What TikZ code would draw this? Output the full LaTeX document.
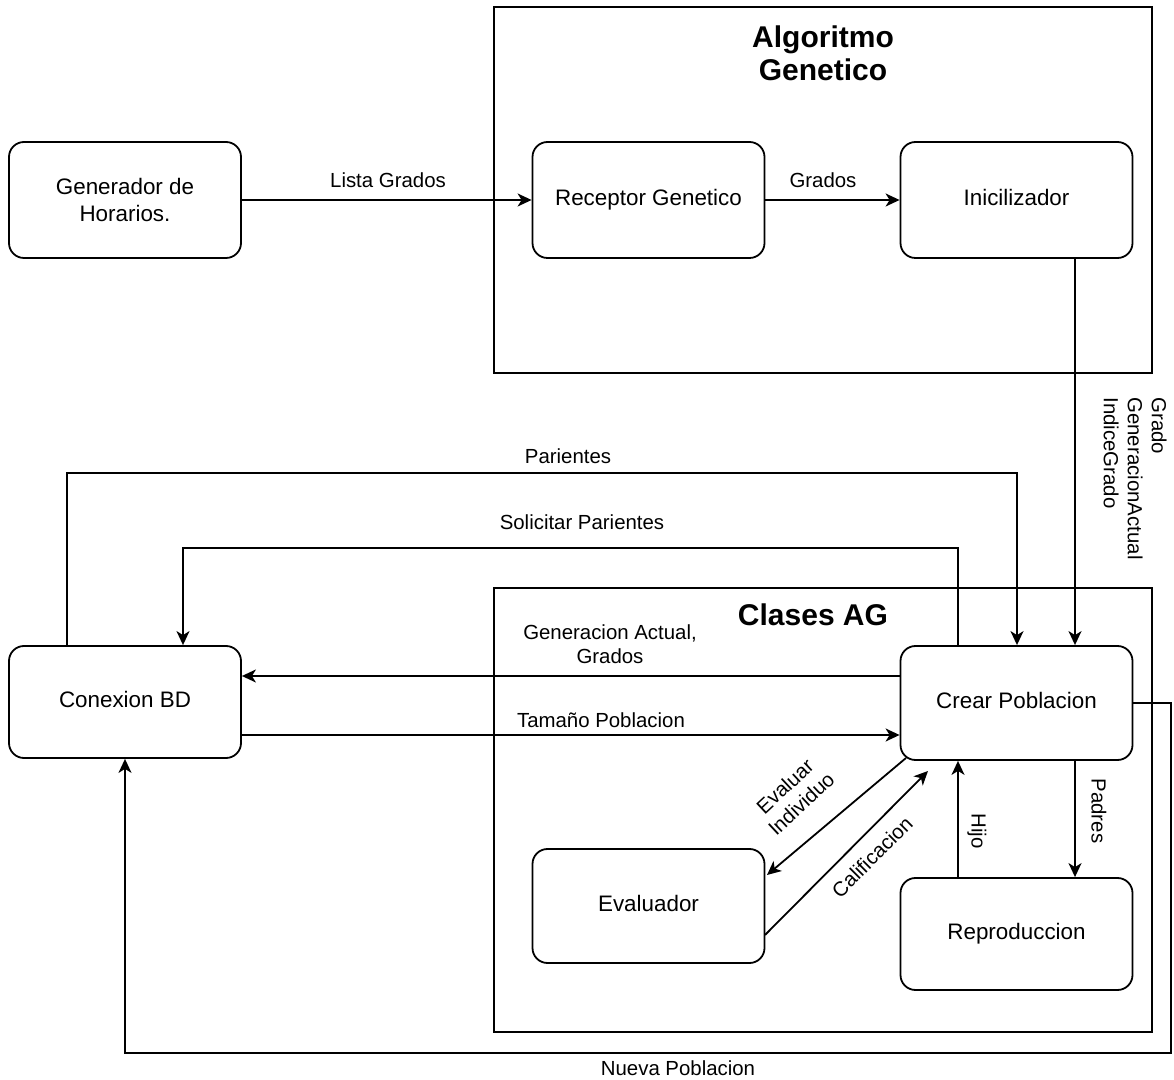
\documentclass[tikz,border=0pt]{standalone}
\usepackage{fontspec}
\setmainfont{Liberation Sans}
\usetikzlibrary{arrows.meta}
\tikzset{
  box/.style={draw, line width=0.9pt, rounded corners=7.5pt, minimum width=116pt, inner sep=2pt, align=center, font=\fontsize{11.2}{13.5}\selectfont},
  one/.style={text height=8.2pt, text depth=2.4pt},
  container/.style={draw, line width=0.9pt},
  arr/.style={line width=0.9pt, -{Stealth[length=7pt,width=6.5pt,inset=2pt]}},
  lbl/.style={font=\fontsize{10.2}{12}\selectfont, inner sep=1pt, align=center},
  ttl/.style={font=\fontsize{15}{16.5}\selectfont\bfseries, align=center, inner sep=0pt}
}
\begin{document}
\begin{tikzpicture}[x=0.5pt,y=-0.5pt]
\useasboundingbox (0,0) rectangle (1174,1080);
% containers
\draw[container] (494,7) rectangle (1152,373);
\draw[container] (494,588) rectangle (1152,1032);
\node[ttl] (talg) at (823,53) {Algoritmo\\Genetico};
\node[ttl] (tcls) at (813,615) {Clases AG};
% nodes
\node[box, minimum height=58pt] (gen) at (125,200) {Generador de\\Horarios.};
\node[box, one, minimum height=58pt] (rec) at (648.5,200) {Receptor Genetico};
\node[box, one, minimum height=58pt] (ini) at (1016.5,200) {Inicilizador};
\node[box, one, minimum height=56pt] (con) at (125,702) {Conexion BD};
\node[box, one, minimum height=57pt] (crear) at (1016.5,703) {Crear Poblacion};
\node[box, one, minimum height=57pt] (eval) at (648.5,906) {Evaluador};
\node[box, one, minimum height=56pt] (rep) at (1016.5,934) {Reproduccion};
% coordinates
\coordinate (cx1) at (1075,0);
\coordinate (pa) at (67,473);
\coordinate (pb) at (1017,473);
\coordinate (sa) at (958,548);
\coordinate (sb) at (183,548);
\coordinate (gy) at (0,676);
\coordinate (ty) at (0,735);
\coordinate (hx) at (958,0);
\coordinate (ev1) at (906,758);
\coordinate (ev2) at (767,875);
\coordinate (ca1) at (765,935);
\coordinate (ca2) at (928,771);
\coordinate (na) at (1171,703);
\coordinate (nb) at (1171,1053);
\coordinate (nc) at (125,1053);
% edges
\draw[arr] (gen.east |- rec.west) -- (rec.west);
\node[lbl] (l1) at (388,180) {Lista Grados};
\draw[arr] (rec.east) -- (ini.west);
\node[lbl] (l2) at (823,180) {Grados};
\draw[arr] (ini.south -| cx1) -- (crear.north -| cx1);
\node[lbl, rotate=-90, anchor=north west, align=left, inner sep=0pt] (l3) at (1167,397) {Grado\\GeneracionActual\\IndiceGrado};
\draw[arr] (con.north -| pa) -- (pa) -- (pb) -- (crear.north -| pb);
\node[lbl] (l4) at (568,456) {Parientes};
\draw[arr] (crear.north -| sa) -- (sa) -- (sb) -- (con.north -| sb);
\node[lbl] (l5) at (582,522) {Solicitar Parientes};
\draw[arr] (crear.west |- gy) -- (con.east |- gy);
\node[lbl] (l6) at (610,644) {Generacion Actual,\\Grados};
\draw[arr] (con.east |- ty) -- (crear.west |- ty);
\node[lbl] (l7) at (601,720) {Tamaño Poblacion};
\draw[arr] (ev1) -- (ev2);
\node[lbl, rotate=43] (l8) at (793,795) {Evaluar\\Individuo};
\draw[arr] (ca1) -- (ca2);
\node[lbl, rotate=45] (l9) at (872,857) {Calificacion};
\draw[arr] (rep.north -| hx) -- (crear.south -| hx);
\node[lbl, rotate=-90] (l10) at (977,831) {Hijo};
\draw[arr] (crear.south -| cx1) -- (rep.north -| cx1);
\node[lbl, rotate=-90] (l11) at (1099,811) {Padres};
\draw[arr] (crear.east |- na) -- (na) -- (nb) -- (nc) -- (con.south -| nc);
\node[lbl] (l12) at (678,1068) {Nueva Poblacion};
\end{tikzpicture}
\end{document}
